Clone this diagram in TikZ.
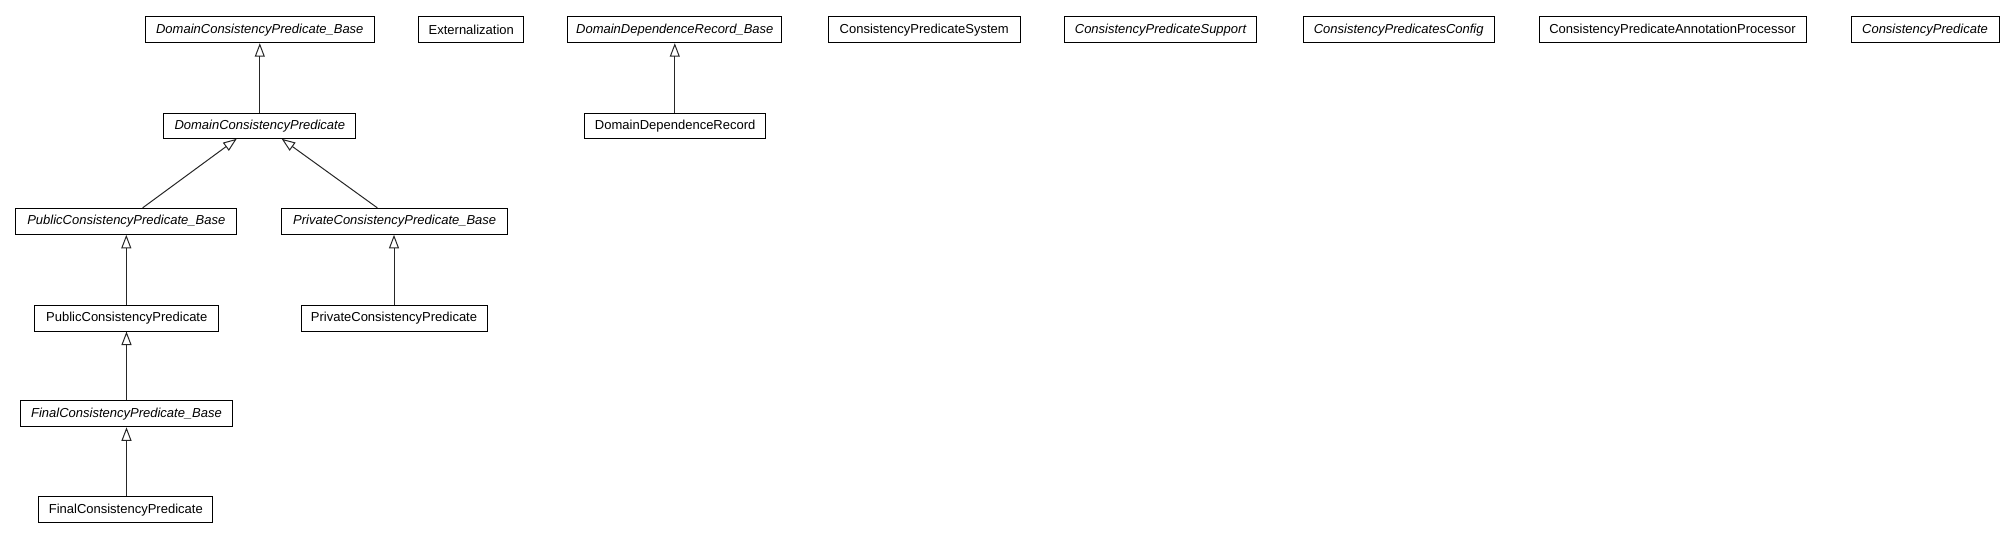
\documentclass[tikz,border=0pt]{standalone}
\usepackage{fontspec}
\setmainfont{Liberation Sans}
\usetikzlibrary{arrows.meta}
\begin{document}
\begin{tikzpicture}[x=1pt,y=-1pt,
  cls/.style={draw=black,line width=1pt,fill=white,inner sep=0pt,minimum height=26pt,font=\fontsize{13}{15}\selectfont},
  abs/.style={cls,font=\fontsize{13}{15}\selectfont\itshape},
  inh/.style={draw=black!85,line width=1pt,-{Triangle[open,length=13.5pt,width=10pt,line width=1pt]}}]
\useasboundingbox (0,0) rectangle (2014,539);
\node[abs,minimum width=229pt] (DCPB) at (259.8,29.7) {DomainConsistencyPredicate\_Base};
\node[cls,minimum width=104.7pt] (Ext) at (471.3,29.7) {Externalization};
\node[abs,minimum width=191.7pt,minimum height=25pt] (DCP) at (259.8,125.8) {DomainConsistencyPredicate};
\node[abs,minimum width=220.7pt] (PubB) at (126.3,221.3) {PublicConsistencyPredicate\_Base};
\node[abs,minimum width=226pt] (PrivB) at (394.7,221.3) {PrivateConsistencyPredicate\_Base};
\node[cls,minimum width=184.3pt] (Pub) at (126.8,318) {PublicConsistencyPredicate};
\node[cls,minimum width=186pt] (Priv) at (394,318) {PrivateConsistencyPredicate};
\node[abs,minimum width=212.4pt] (FinB) at (126.5,413.8) {FinalConsistencyPredicate\_Base};
\node[cls,minimum width=173.7pt] (Fin) at (125.8,509.7) {FinalConsistencyPredicate};
\node[abs,minimum width=213.7pt] (DDRB) at (674.8,29.7) {DomainDependenceRecord\_Base};
\node[cls,minimum width=191.7pt] (CPS) at (924.2,29.7) {ConsistencyPredicateSystem};
\node[cls,minimum width=180.7pt,minimum height=25pt] (DDR) at (675.2,125.8) {DomainDependenceRecord};
\node[abs,minimum width=192.4pt] (CPSup) at (1160.5,29.7) {ConsistencyPredicateSupport};
\node[abs,minimum width=190.7pt] (CPConf) at (1398.7,29.7) {ConsistencyPredicatesConfig};
\node[cls,minimum width=267pt] (CPAP) at (1672.5,29.7) {ConsistencyPredicateAnnotationProcessor};
\node[abs,minimum width=148pt] (CP) at (1925,29.7) {ConsistencyPredicate};
\draw[inh] (DCP.north) -- (DCPB.south);
\draw[inh] ([xshift=16.4pt]PubB.north) -- ([xshift=-23.1pt]DCP.south);
\draw[inh] ([xshift=-17.4pt]PrivB.north) -- ([xshift=21.9pt]DCP.south);
\draw[inh] (Pub.north -| PubB.south) -- (PubB.south);
\draw[inh] (Priv.north) -- (PrivB.south -| Priv.north);
\draw[inh] (FinB.north) -- (Pub.south -| FinB.north);
\draw[inh] (Fin.north -| FinB.south) -- (FinB.south);
\draw[inh] (DDR.north -| DDRB.south) -- (DDRB.south);
\end{tikzpicture}
\end{document}
